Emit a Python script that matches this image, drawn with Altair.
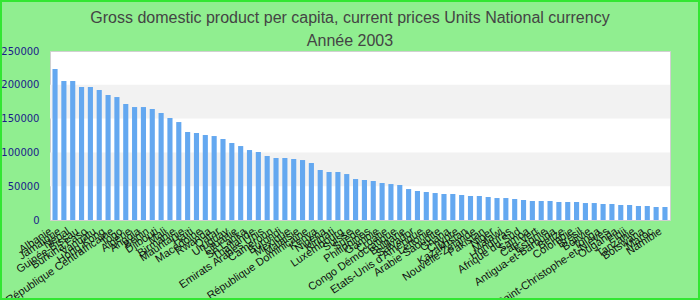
import altair as alt
import pandas as pd

countries = [
    "Albanie", "Jamaïque", "Népal", "Guinée-Bissau", "Burkina Faso", "Vanuatu",
    "Hong Kong", "République Centrafricaine", "Togo", "Algérie", "Angola", "Bénin",
    "Djibouti", "Mali", "Birmanie", "Mauritanie", "Haïti", "Macédoine", "Rwanda",
    "Qatar", "Uruguay", "Lituanie", "Sri Lanka", "Thaïlande", "Emirats Arabes Unis",
    "Cameroun", "Burundi", "Mexique", "Malaisie", "République Dominicaine", "Kenya",
    "Nigeria", "Kiribati", "Luxembourg", "Suisse", "Suède", "Philippines", "Gambie",
    "Croatie", "Congo Démocratique", "Bulgarie", "Salvador", "Etats-Unis d'Amérique",
    "Lettonie", "Arabie Saoudite", "Ghana", "Chypre", "Kazakhstan", "Nouvelle-Zélande",
    "Pakistan", "Niger", "Malawi", "Honduras", "Afrique du Sud", "Samoa", "Cap-Vert",
    "Estonie", "Antigua-et-Barbuda", "Belize", "Colombie", "Brésil", "Bolivie", "Tonga",
    "Saint-Christophe-et-Niévès", "Ouganda", "Fidji", "Tanzanie", "Botswana", "Maroc",
    "Namibie",
]

values = [
    223300, 205600, 205600, 196700, 196700, 192300, 184900, 181900, 171600, 167100,
    167100, 164200, 158300, 150900, 144900, 130200, 128700, 125700, 124200, 119800,
    113900, 109400, 103500, 100600, 94700, 91700, 91700, 90200, 88700, 84300,
    74000, 71000, 71000, 68000, 60600, 59200, 57700, 54700, 53200, 51800,
    45800, 42900, 41400, 39900, 38500, 38500, 37000, 35500, 35500, 34000,
    32500, 32500, 31100, 29600, 28100, 28100, 28100, 26600, 26600, 26600,
    25100, 25100, 23700, 23700, 22200, 22200, 20700, 20700, 19200, 19200,
]

band_lo = [50000, 150000]
band_hi = [100000, 200000]

y_ticks = [0, 50000, 100000, 150000, 200000, 250000]

df = pd.DataFrame({"country": countries, "value": values})
bands = pd.DataFrame({"lo": band_lo, "hi": band_hi})

yscale = alt.Scale(domain=[0, 250000], nice=False)

y_axis = alt.Axis(
    title=None,
    values=y_ticks,
    format="d",
    grid=False,
    ticks=False,
    domain=False,
    labelFont="DejaVu Sans",
    labelFontSize=10,
    labelColor="#1a1a8a",
    labelPadding=11,
    labelOverlap=False,
    labelFlush=False,
)

band_layer = alt.Chart(bands).mark_rect(color="#f2f2f2").encode(
    y=alt.Y("lo:Q", scale=yscale, axis=y_axis),
    y2="hi:Q",
)

bars = alt.Chart(df).mark_bar(color="#64a8f0").encode(
    x=alt.X(
        "country:N",
        sort=None,
        scale=alt.Scale(paddingInner=0.42, paddingOuter=0.28),
        axis=alt.Axis(
            title=None,
            labelAngle=326,
            labelAlign="right",
            labelBaseline="middle",
            labelFont="Liberation Sans",
            labelFontSize=11,
            labelColor="#111111",
            labelPadding=10,
            labelOffset=-4,
            labelOverlap=False,
            labelLimit=0,
            ticks=False,
            domain=False,
        ),
    ),
    y=alt.Y("value:Q", scale=yscale, axis=y_axis),
)

border = alt.Chart(alt.Data(values=[{"k": 1}])).mark_rect(
    fill=None, stroke="#33e633", strokeWidth=2
).encode(
    x=alt.value(-49), x2=alt.value(649), y=alt.value(-50), y2=alt.value(248)
)

chart = alt.layer(band_layer, bars, border).properties(
    width=620,
    height=169,
    title=alt.TitleParams(
        text=["Gross domestic product per capita, current prices Units National currency", "Année 2003"],
        font="Liberation Sans",
        fontSize=16,
        fontWeight="normal",
        color="#444444",
        anchor="middle",
        dx=-10,
        dy=49,
        lineHeight=23,
        offset=0,
    ),
    autosize=alt.AutoSizeParams(type="none"),
    padding={"left": 50, "top": 51, "right": 30, "bottom": 80},
    background="#90ee90",
).configure_view(
    fill="white", stroke="#d0d0d0", strokeWidth=1
)

chart.save("out.html", embed_options={"renderer": "svg", "actions": False})
